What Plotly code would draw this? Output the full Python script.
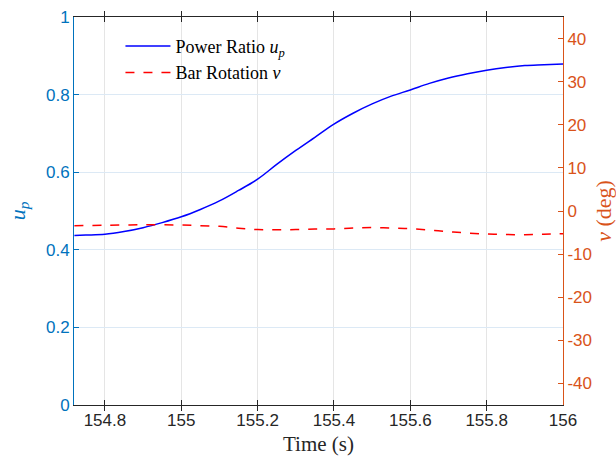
import plotly.graph_objects as go

t_up = [154.72, 154.75, 154.8, 154.85, 154.9, 154.95, 155.0, 155.05, 155.1, 155.15,
        155.2, 155.25, 155.3, 155.35, 155.4, 155.45, 155.5, 155.55, 155.6, 155.65,
        155.7, 155.75, 155.8, 155.85, 155.9, 155.95, 156.0]
u_p = [0.437, 0.438, 0.440, 0.447, 0.457, 0.470, 0.485, 0.504, 0.526, 0.553,
       0.582, 0.620, 0.656, 0.690, 0.724, 0.752, 0.776, 0.796, 0.812, 0.829,
       0.843, 0.854, 0.863, 0.870, 0.875, 0.877, 0.879]

t_nu = [154.72, 154.8, 154.9, 155.0, 155.05, 155.1, 155.15, 155.2, 155.25, 155.3,
        155.35, 155.4, 155.45, 155.5, 155.55, 155.6, 155.65, 155.7, 155.75, 155.8,
        155.85, 155.9, 155.95, 156.0]
nu = [-3.4, -3.3, -3.2, -3.25, -3.4, -3.55, -4.0, -4.3, -4.35, -4.3,
      -4.2, -4.15, -3.95, -3.85, -3.95, -4.1, -4.4, -4.8, -5.1, -5.33,
      -5.45, -5.5, -5.4, -5.27]

x_ticks = [154.8, 155, 155.2, 155.4, 155.6, 155.8, 156]
x_ticklabels = ["154.8", "155", "155.2", "155.4", "155.6", "155.8", "156"]
y1_ticks = [0, 0.2, 0.4, 0.6, 0.8, 1]
y1_ticklabels = ["0", "0.2", "0.4", "0.6", "0.8", "1"]
y2_ticks = [-40, -30, -20, -10, 0, 10, 20, 30, 40]
y2_ticklabels = [str(v) for v in y2_ticks]

BLUE_AX = "#0072BD"
ORANGE_AX = "#D95319"
TICKFONT = "Liberation Sans, Arial, sans-serif"
SERIF = "Liberation Serif, Times New Roman, serif"

fig = go.Figure()
fig.add_trace(go.Scatter(x=t_up, y=u_p, mode="lines", name="Power Ratio <i>u</i><sub><i>p</i></sub>",
                         line=dict(color="#0000FF", width=1.5, shape="spline"), yaxis="y"))
fig.add_trace(go.Scatter(x=t_nu, y=nu, mode="lines", name="Bar Rotation <i>ν</i>",
                         line=dict(color="#FF0000", width=1.5, dash="dash", shape="spline"), yaxis="y2"))

fig.update_layout(
    width=616, height=459,
    margin=dict(l=74, r=53, t=17, b=54, autoexpand=False),
    paper_bgcolor="white", plot_bgcolor="white",
    showlegend=True,
    legend=dict(x=0.095, y=0.972, xanchor="left", yanchor="top",
                bgcolor="rgba(0,0,0,0)", borderwidth=0,
                itemwidth=45,
                font=dict(family=SERIF, size=18, color="#000000"),
                tracegroupgap=0),
    xaxis=dict(range=[154.719, 156.0], tickvals=x_ticks, ticktext=x_ticklabels,
               showgrid=True, gridcolor="#e5e5e5", gridwidth=1,
               showline=True, linecolor="#262626", linewidth=1, mirror="allticks",
               ticks="inside", ticklen=5, tickcolor="#262626",
               tickfont=dict(family=TICKFONT, size=17, color="#262626"),
               zeroline=False, automargin=False,
               title=dict(text="Time (s)", font=dict(family=SERIF, size=21, color="#262626"), standoff=6)),
    yaxis=dict(range=[0, 1], tickvals=y1_ticks, ticktext=y1_ticklabels,
               showgrid=True, gridcolor="#dce9f5", gridwidth=1,
               showline=True, linecolor=BLUE_AX, linewidth=1,
               ticks="inside", ticklen=5, tickcolor=BLUE_AX,
               tickfont=dict(family=TICKFONT, size=17, color=BLUE_AX),
               zeroline=False, automargin=False,
               title=dict(text="<i>u</i><sub><i>p</i></sub>", font=dict(family=SERIF, size=22, color=BLUE_AX), standoff=14)),
    yaxis2=dict(range=[-45, 45], tickvals=y2_ticks, ticktext=y2_ticklabels,
                overlaying="y", side="right",
                showgrid=False,
                showline=True, linecolor=ORANGE_AX, linewidth=1,
                ticks="inside", ticklen=5, tickcolor=ORANGE_AX,
                tickfont=dict(family=TICKFONT, size=17, color=ORANGE_AX),
                zeroline=False, automargin=False,
                title=dict(text="<i>ν</i> (deg)", font=dict(family=SERIF, size=22, color=ORANGE_AX), standoff=12)),
)

fig.write_html("out.html")
